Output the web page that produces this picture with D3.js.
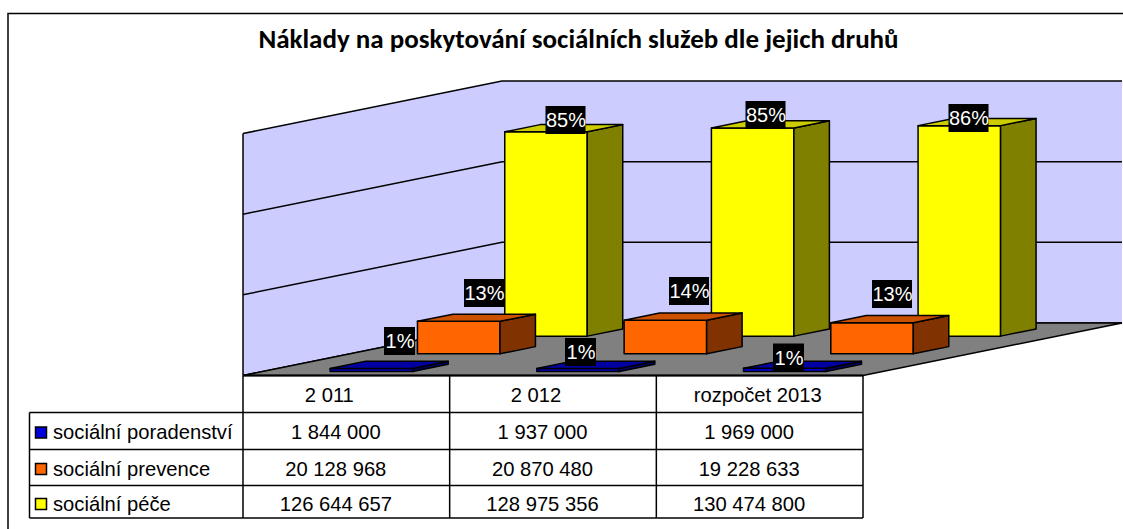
<!DOCTYPE html>
<html>
<head>
<meta charset="utf-8">
<script src="https://cdn.jsdelivr.net/npm/d3@7"></script>
<style>
  html, body { margin: 0; padding: 0; background: #fff; overflow: hidden; }
  svg { display: block; }
</style>
</head>
<body>
<div id="chart"></div>
<script>
const categories = ["2 011", "2 012", "rozpočet 2013"];
const seriesNames = ["sociální poradenství", "sociální prevence", "sociální péče"];
const poradenstvi = [1844000, 1937000, 1969000];
const prevence = [20128968, 20870480, 19228633];
const pece = [126644657, 128975356, 130474800];
const poradenstviPct = ["1%", "1%", "1%"];
const prevencePct = ["13%", "14%", "13%"];
const pecePct = ["85%", "85%", "86%"];
const yTicks = [0, 50000000, 100000000, 150000000];

const colors = [
  { front: "#0000cc", side: "#000066", top: "#0000a3" },
  { front: "#ff6600", side: "#803300", top: "#cc5200" },
  { front: "#ffff00", side: "#808000", top: "#cccc00" }
];

// label box centres, hand moved in the original so not derivable from the bars
const labelPos = [
  [[399.5, 341], [580.5, 352], [788.5, 357.5]],
  [[484, 293], [689, 291], [892, 294]],
  [[565.5, 120], [765.5, 115], [968.5, 118]]
];
// the header and value cells are not centred in their columns
const headShift = [-17, -17, -2];
const valueShift = -10.5;

const width = 1123;
const height = 529;
const fontBody = "'Liberation Sans', Arial, sans-serif";

const floorY = 375.5;
const depthX = 259;
const depthY = 52.5;
const lineW = 1.5;

const x = d3.scaleBand().domain(categories).range([243, 863]);
const y = d3.scaleLinear().domain([0, 150000000]).range([0, 242]);
// depth position of a series on the floor, 0 front, 1 back
const z = d3.scalePoint().domain(seriesNames).range([0.076, 0.75]);
const barDepth = 0.137;
const barOffset = 67.5;
const barWidth = 82.5;

const px = (xv, d) => xv + depthX * d;
const py = (v, d) => floorY - depthY * d - y(v);
const pts = (arr) => arr.map((p) => p.join(",")).join(" ");

const svg = d3
  .select("#chart")
  .append("svg")
  .attr("width", width)
  .attr("height", height)
  .attr("viewBox", [0, 0, width, height]);

// chart frame, only top and left edges are in view
svg
  .append("path")
  .attr("d", "M8,529V13.5H1123")
  .attr("fill", "none")
  .attr("stroke", "#000")
  .attr("stroke-width", lineW);

svg
  .append("text")
  .attr("x", 578.5)
  .attr("y", 48)
  .attr("text-anchor", "middle")
  .attr("font-family", "Carlito, Lato, sans-serif")
  .attr("font-weight", 700)
  .attr("font-size", 27)
  .attr("fill", "#000")
  .text("Náklady na poskytování sociálních služeb dle jejich druhů");

const x0 = x.range()[0];
const x1 = x.range()[1];
const yMax = yTicks[yTicks.length - 1];

// walls
svg
  .append("polygon")
  .attr("points", pts([[x0, py(0, 0)], [x0, py(yMax, 0)], [px(x0, 1), py(yMax, 1)], [px(x0, 1), py(0, 1)]]))
  .attr("fill", "#ccccff");
svg
  .append("polygon")
  .attr("points", pts([[px(x0, 1), py(0, 1)], [px(x0, 1), py(yMax, 1)], [px(x1, 1), py(yMax, 1)], [px(x1, 1), py(0, 1)]]))
  .attr("fill", "#ccccff");

// gridlines run along the left wall and then the back wall
svg
  .append("g")
  .selectAll("polyline")
  .data(yTicks)
  .join("polyline")
  .attr("points", (t) => pts([[x0, py(t, 0)], [px(x0, 1), py(t, 1)], [px(x1, 1), py(t, 1)]]))
  .attr("fill", "none")
  .attr("stroke", "#000")
  .attr("stroke-width", lineW);

svg
  .append("line")
  .attr("x1", x0)
  .attr("x2", x0)
  .attr("y1", py(0, 0))
  .attr("y2", py(yMax, 0))
  .attr("stroke", "#000")
  .attr("stroke-width", lineW);

// floor
svg
  .append("polygon")
  .attr("points", pts([[x0, py(0, 0)], [px(x0, 1), py(0, 1)], [px(x1, 1), py(0, 1)], [x1, py(0, 0)]]))
  .attr("fill", "#808080")
  .attr("stroke", "#000")
  .attr("stroke-width", lineW);

svg
  .append("line")
  .attr("x1", x0)
  .attr("x2", x1)
  .attr("y1", floorY)
  .attr("y2", floorY)
  .attr("stroke", "#000")
  .attr("stroke-width", 2);

const allValues = [poradenstvi, prevence, pece];
const allPct = [poradenstviPct, prevencePct, pecePct];

// back series first so nearer bars cover it
const barData = [];
[2, 1, 0].forEach((s) => {
  categories.forEach((c, i) => {
    barData.push({ s, c, v: allValues[s][i], name: seriesNames[s] });
  });
});

const bar = svg
  .append("g")
  .attr("stroke", "#000")
  .attr("stroke-width", lineW)
  .attr("stroke-linejoin", "round")
  .selectAll("g")
  .data(barData)
  .join("g");

const xa = (d) => x(d.c) + barOffset;
const xb = (d) => xa(d) + barWidth;
const za = (d) => z(d.name);
const zb = (d) => z(d.name) + barDepth;

bar
  .append("polygon")
  .attr("fill", (d) => colors[d.s].front)
  .attr("points", (d) =>
    pts([[px(xa(d), za(d)), py(0, za(d))], [px(xa(d), za(d)), py(d.v, za(d))], [px(xb(d), za(d)), py(d.v, za(d))], [px(xb(d), za(d)), py(0, za(d))]])
  );
bar
  .append("polygon")
  .attr("fill", (d) => colors[d.s].side)
  .attr("points", (d) =>
    pts([[px(xb(d), za(d)), py(0, za(d))], [px(xb(d), za(d)), py(d.v, za(d))], [px(xb(d), zb(d)), py(d.v, zb(d))], [px(xb(d), zb(d)), py(0, zb(d))]])
  );
bar
  .append("polygon")
  .attr("fill", (d) => colors[d.s].top)
  .attr("points", (d) =>
    pts([[px(xa(d), za(d)), py(d.v, za(d))], [px(xb(d), za(d)), py(d.v, za(d))], [px(xb(d), zb(d)), py(d.v, zb(d))], [px(xa(d), zb(d)), py(d.v, zb(d))]])
  );

// percent labels
const labelData = [];
allPct.forEach((row, s) => row.forEach((t, i) => labelData.push({ t, pos: labelPos[s][i] })));

const label = svg.append("g").selectAll("g").data(labelData).join("g")
  .attr("transform", (d) => `translate(${d.pos[0]},${d.pos[1]})`);
label
  .append("rect")
  .attr("x", (d) => (d.t.length > 2 ? -20 : -15.5))
  .attr("y", -14)
  .attr("width", (d) => (d.t.length > 2 ? 40 : 31))
  .attr("height", 28)
  .attr("fill", "#000");
label
  .append("text")
  .attr("text-anchor", "middle")
  .attr("x", 0.5)
  .attr("dy", "0.36em")
  .attr("font-family", fontBody)
  .attr("font-size", 20)
  .attr("fill", "#fff")
  .text((d) => d.t);

// data table
const rowsY = [375.5, 412.5, 449.5, 485.5, 518];
const rowText = [432, 468.5, 503.5];
const legendLeft = 29.5;

const table = svg
  .append("g")
  .attr("stroke", "#000")
  .attr("stroke-width", lineW)
  .attr("fill", "none");

table
  .selectAll("line.col")
  .data([...categories.map((c) => x(c)), x1])
  .join("line")
  .attr("x1", (d) => d)
  .attr("x2", (d) => d)
  .attr("y1", floorY)
  .attr("y2", rowsY[4]);
table
  .selectAll("line.row")
  .data(rowsY.slice(1))
  .join("line")
  .attr("x1", legendLeft)
  .attr("x2", x1)
  .attr("y1", (d) => d)
  .attr("y2", (d) => d);
table
  .append("line")
  .attr("x1", legendLeft)
  .attr("x2", legendLeft)
  .attr("y1", rowsY[1])
  .attr("y2", rowsY[4]);

const cellText = svg
  .append("g")
  .attr("font-family", fontBody)
  .attr("font-size", 20.2)
  .attr("fill", "#000");

cellText
  .selectAll("text.head")
  .data(categories)
  .join("text")
  .attr("x", (c, i) => x(c) + x.bandwidth() / 2 + headShift[i])
  .attr("y", 394.5)
  .attr("dy", "0.35em")
  .attr("text-anchor", "middle")
  .text((c) => c);

const fmt = (v) => String(v).replace(/\B(?=(\d{3})+$)/g, " ");

seriesNames.forEach((name, s) => {
  const mid = rowText[s];
  const row = cellText.append("g");
  row
    .append("rect")
    .attr("x", 35.5)
    .attr("y", mid - 5)
    .attr("width", 11)
    .attr("height", 11)
    .attr("fill", s === 0 ? "#0000dd" : colors[s].front)
    .attr("stroke", "#000")
    .attr("stroke-width", lineW);
  row
    .append("text")
    .attr("x", 53)
    .attr("y", mid)
    .attr("dy", "0.35em")
    .text(name);
  categories.forEach((c, i) => {
    row
      .append("text")
      .attr("x", x(c) + x.bandwidth() / 2 + valueShift)
      .attr("y", mid)
      .attr("dy", "0.35em")
      .attr("text-anchor", "middle")
      .text(fmt(allValues[s][i]));
  });
});
</script>
</body>
</html>
